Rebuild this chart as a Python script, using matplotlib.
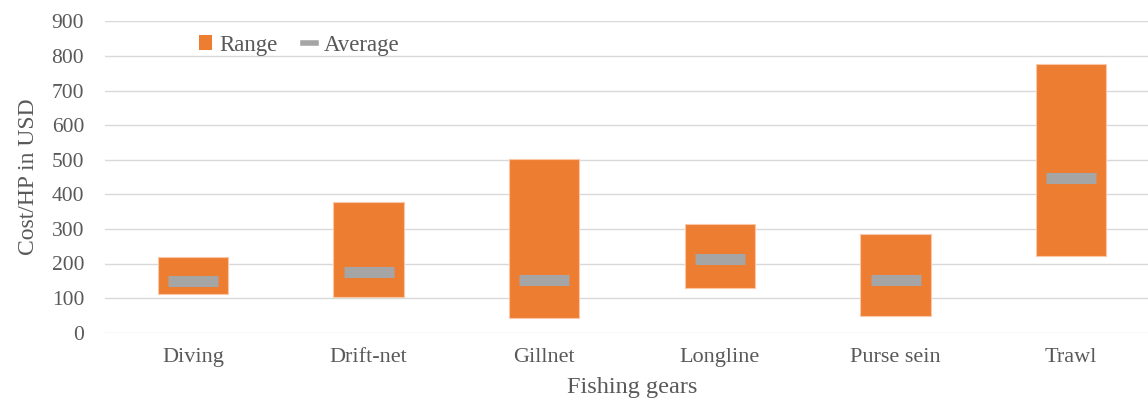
import matplotlib
matplotlib.use("Agg")
import matplotlib.pyplot as plt
from matplotlib.patches import Patch
from matplotlib.lines import Line2D
import numpy as np

gears = ["Diving", "Drift-net", "Gillnet", "Longline", "Purse sein", "Trawl"]
range_low = [112, 102, 42, 128, 48, 221]
range_high = [219, 379, 503, 313, 286, 777]
average = [149, 176, 152, 213, 152, 446]

orange = "#ED7D31"
grey = "#A5A5A5"
text_col = "#595959"

plt.rcParams["font.family"] = ["Liberation Serif", "DejaVu Serif"]

fig = plt.figure(figsize=(11.48, 4.01), dpi=100)
ax = fig.add_axes([105 / 1148, 68.3 / 401, 1054 / 1148, 311.4 / 401])

x = np.arange(len(gears))
low = np.array(range_low)
high = np.array(range_high)
ax.bar(x, high - low, bottom=low, width=0.40, color=orange,
       edgecolor="#F8C8A8", linewidth=0.8, zorder=3)
ax.plot(x, average, linestyle="none", marker="_", markersize=36,
        markeredgewidth=8, color=grey, zorder=4)

ax.set_xlim(-0.5, len(gears) - 0.5)
ax.set_ylim(0, 900)
ax.set_yticks(range(0, 901, 100))
ax.set_xticks(x)
ax.set_xticklabels(gears)
ax.grid(axis="y", color="#D9D9D9", linewidth=1.0, zorder=0)
ax.set_axisbelow(True)
for s in ax.spines.values():
    s.set_visible(False)
ax.tick_params(axis="both", length=0, colors=text_col)
ax.tick_params(axis="y", labelsize=15.5, pad=15)
ax.tick_params(axis="x", labelsize=16, pad=11)

ax.set_ylabel("Cost/HP in USD", fontsize=17, color=text_col, labelpad=9)
ax.set_xlabel("Fishing gears", fontsize=17.5, color=text_col, labelpad=7)

handles = [Patch(facecolor=orange, edgecolor="none"),
           Line2D([0], [0], color=grey, linewidth=4)]
fig.legend(handles, ["Range", "Average"], loc="upper left",
           bbox_to_anchor=(178 / 1148, 1 - 14 / 401), frameon=False,
           ncol=2, fontsize=16.5, handlelength=0.6, handleheight=0.6,
           handletextpad=0.3, columnspacing=1.1, labelcolor=text_col)

fig.savefig("out.png", dpi=100)
